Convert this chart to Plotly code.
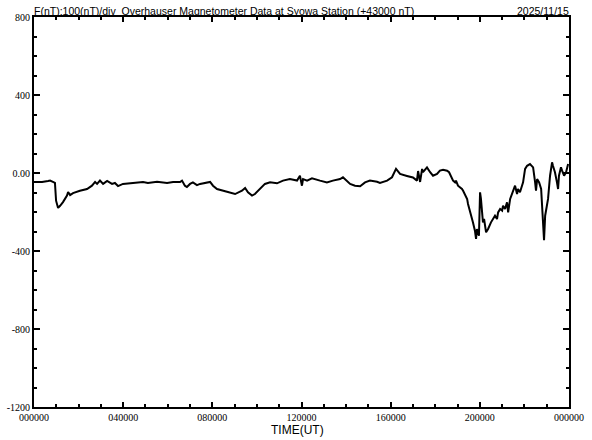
import plotly.graph_objects as go

# Time (hours UT) and total force deviation (nT, offset +43000 nT)
time_h = [0.00, 0.36, 0.63, 0.72, 0.85, 0.94, 0.99, 1.08, 1.17, 1.30, 1.48, 1.53, 1.62, 1.75,
          2.06, 2.38, 2.60, 2.74, 2.83, 2.96, 3.10, 3.28, 3.50, 3.63, 3.77, 3.99, 4.44, 4.89,
          5.11, 5.52, 5.97, 6.24, 6.55, 6.64, 6.77, 6.86, 7.00, 7.13, 7.31, 7.45, 7.90, 8.03,
          8.21, 8.48, 8.79, 9.02, 9.33, 9.47, 9.60, 9.78, 9.91, 10.14, 10.36, 10.59, 10.90,
          11.17, 11.48, 11.80, 11.93, 12.02, 12.07, 12.25, 12.47, 12.83, 13.14, 13.41, 13.73,
          13.86, 14.04, 14.18, 14.40, 14.63, 14.85, 15.07, 15.39, 15.52, 15.84, 16.06, 16.24,
          16.42, 16.73, 17.00, 17.18, 17.23, 17.32, 17.41, 17.45, 17.63, 17.77, 17.90, 18.08,
          18.21, 18.35, 18.53, 18.62, 18.75, 18.80, 18.89, 18.93, 19.02, 19.11, 19.20, 19.25,
          19.43, 19.47, 19.56, 19.65, 19.69, 19.78, 19.83, 19.87, 19.96, 20.01, 20.05, 20.14,
          20.19, 20.28, 20.37, 20.50, 20.59, 20.68, 20.77, 20.82, 20.91, 21.00, 21.04, 21.13,
          21.22, 21.27, 21.36, 21.44, 21.49, 21.58, 21.67, 21.71, 21.80, 21.89, 21.94, 22.03,
          22.12, 22.25, 22.34, 22.39, 22.48, 22.52, 22.57, 22.66, 22.75, 22.79, 22.84, 22.88,
          22.93, 23.01, 23.06, 23.15, 23.24, 23.28, 23.37, 23.46, 23.51, 23.55, 23.64, 23.69,
          23.78, 23.87, 23.91, 23.96]
f_nT = [-46, -46, -41, -39, -46, -51, -142, -179, -168, -149, -116, -97, -113, -103,
        -91, -82, -65, -46, -56, -39, -56, -41, -56, -51, -67, -56, -51, -46,
        -51, -45, -51, -46, -46, -39, -65, -72, -56, -48, -62, -56, -46, -65,
        -82, -91, -99, -108, -91, -77, -99, -116, -108, -82, -56, -48, -53,
        -39, -31, -39, -14, -65, -31, -39, -27, -39, -48, -39, -31,
        -22, -39, -56, -65, -68, -48, -39, -45, -51, -39, -22, 21,
        -5, -15, -23, -39, 10, -46, 21, 4, 29, 4, -14, -5,
        12, 17, 12, 4, -22, -39, -48, -39, -65, -73, -82, -91,
        -133, -159, -193, -227, -253, -296, -338, -287, -322, -99, -133, -253,
        -236, -304, -287, -253, -236, -219, -236, -202, -185, -193, -168, -185,
        -150, -202, -133, -108, -82, -65, -108, -82, -99, -73, -48, 21,
        37, 46, 37, 29, -48, -91, -31, -48, -82, -185, -322, -344,
        -219, -168, -133, -14, 55, 37, 4, -48, -82, -14, 29, 12,
        -14, 4, 29, 46]

x_tickvals = [0, 4, 8, 12, 16, 20, 24]
x_ticktext = ["000000", "040000", "080000", "120000", "160000", "200000", "000000"]
y_tickvals = [800, 400, 0, -400, -800, -1200]
y_ticktext = ["800", "400", "0.00", "-400", "-800", "-1200"]

title_text = "F(nT):100(nT)/div  Overhauser Magnetometer Data at Syowa Station (+43000 nT)"
date_text = "2025/11/15"
x_title = "TIME(UT)"

fig = go.Figure()
fig.add_trace(go.Scatter(x=time_h, y=f_nT, mode="lines",
                         line=dict(color="black", width=2), showlegend=False))

axis_common = dict(showline=True, linecolor="black", linewidth=2, mirror="ticks",
                   ticks="inside", tickcolor="black", tickwidth=2,
                   showgrid=False, zeroline=False, automargin=False,
                   tickfont=dict(family="Liberation Serif", size=10, color="black"))

fig.update_xaxes(range=[0, 24], tickmode="array", tickvals=x_tickvals, ticktext=x_ticktext,
                 ticklen=5, minor=dict(dtick=1, ticks="inside", ticklen=3, tickwidth=2,
                                       tickcolor="black", showgrid=False),
                 ticklabelstandoff=0,
                 **axis_common)
fig.update_yaxes(range=[-1200, 800], tickmode="array", tickvals=y_tickvals, ticktext=y_ticktext,
                 ticklen=6, minor=dict(dtick=100, tick0=0, ticks="inside", ticklen=3, tickwidth=2,
                                       tickcolor="black", showgrid=False),
                 ticklabelstandoff=0,
                 **axis_common)

fig.add_annotation(text=title_text, xref="paper", yref="paper", x=0, y=1, xanchor="left",
                   yanchor="bottom", showarrow=False, yshift=-2, xshift=-2,
                   font=dict(family="Liberation Sans", size=10.5, color="black"))
fig.add_annotation(text=date_text, xref="paper", yref="paper", x=1, y=1, xanchor="right",
                   yanchor="bottom", showarrow=False, yshift=-2, xshift=2,
                   font=dict(family="Liberation Sans", size=10.5, color="black"))
fig.add_annotation(text=x_title, xref="paper", yref="paper", x=0.5, y=0, xanchor="center",
                   yanchor="top", showarrow=False, yshift=-14, xshift=-4,
                   font=dict(family="Liberation Sans", size=12, color="black"))

fig.update_layout(width=592, height=440, margin=dict(l=34, r=23, t=17, b=33, pad=0),
                  plot_bgcolor="white", paper_bgcolor="white", hovermode=False)

fig.write_html("out.html", config={"displayModeBar": False, "staticPlot": True},
               post_script="document.body.style.margin='0px';document.body.style.overflow='hidden';")
